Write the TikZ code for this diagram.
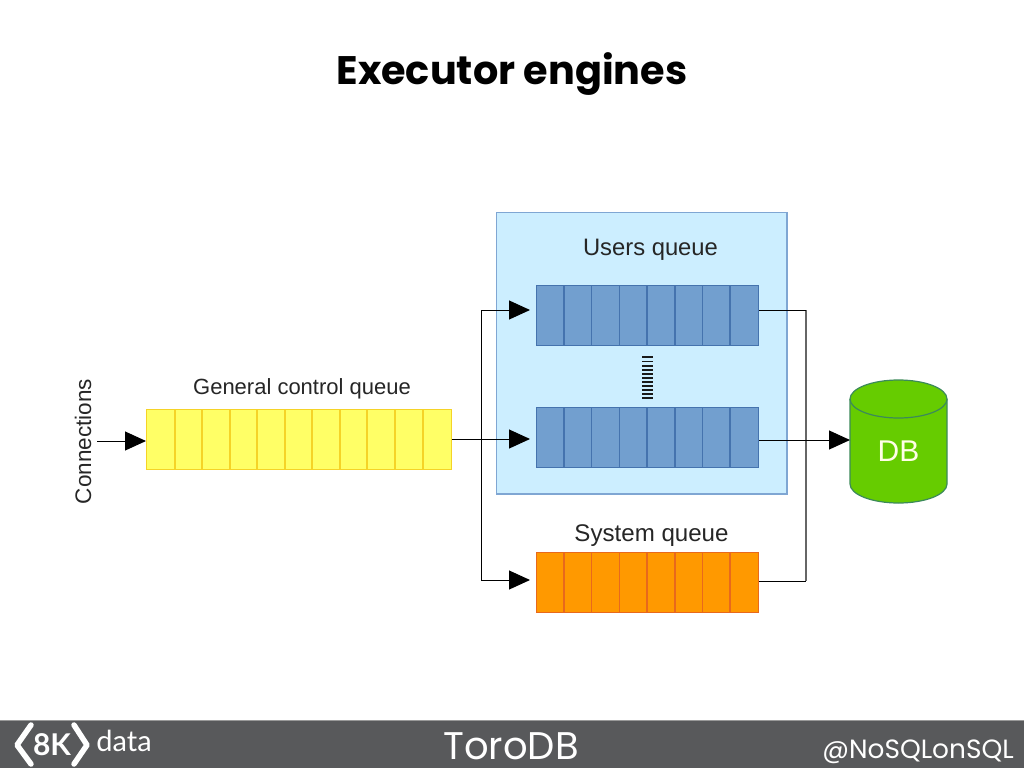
\documentclass[tikz,border=0pt]{standalone}
\usepackage{fontspec}
\setmainfont{Liberation Sans}
\newfontfamily\titlefont{Poppins}
\newfontfamily\logofont{Lato}
\usetikzlibrary{arrows.meta,calc}
\definecolor{footgray}{HTML}{58595B}
\definecolor{yelfill}{HTML}{FFFF66}
\definecolor{yelline}{HTML}{F5D327}
\definecolor{bluefill}{HTML}{729FCF}
\definecolor{blueline}{HTML}{4573AE}
\definecolor{orfill}{HTML}{FF9900}
\definecolor{orline}{HTML}{E8691C}
\definecolor{panelfill}{HTML}{CCEEFF}
\definecolor{panelline}{HTML}{7FA6D3}
\definecolor{dbfill}{HTML}{66CC00}
\definecolor{dbline}{HTML}{3C8A5A}
\definecolor{busgray}{HTML}{666666}
\tikzset{
  x=1pt,y=-1pt,
  queue/.style={draw=#1,line width=1.4pt,minimum height=59.5pt,inner sep=0pt,anchor=north west},
  conn/.style={draw=black,line width=1pt},
  head/.style={conn,-{Triangle[length=21pt,width=19pt]}},
  lbl/.style={text=black!85,inner sep=0pt},
  divider/.style={line width=1.4pt},
}
\begin{document}
\begin{tikzpicture}
\useasboundingbox (0,0) rectangle (1024,768);
\fill[white] (0,0) rectangle (1024,768);
% panel
\node[draw=panelline,fill=panelfill,line width=1.3pt,minimum width=290.5pt,minimum height=281.5pt,inner sep=0pt,anchor=north west] (panel) at (495.8,211.8) {};
% queues
\node[queue=yelline,fill=yelfill,minimum width=304.5pt] (general) at (146,409) {};
\foreach \x in {175,202,230,257,285,312,340,367,395,423}{\draw[divider,yelline] (\x,409) -- (\x,468.5);}
\node[queue=blueline,fill=bluefill,minimum width=221.8pt] (users1) at (536,285) {};
\node[queue=blueline,fill=bluefill,minimum width=221.8pt] (users2) at (536,407) {};
\node[queue=orline,fill=orfill,minimum width=221.8pt] (system) at (536,552) {};
\foreach \x in {564,591.7,619.6,647,675,702.6,730}{
  \draw[divider,blueline] (\x,285) -- (\x,344.5);
  \draw[divider,blueline] (\x,407) -- (\x,466.5);
  \draw[divider,orline] (\x,552) -- (\x,611.5);
}
% dotted stack
\foreach \y in {357,361.5,366,370,374,378,382,386,390,394,398}{\fill[black!90] (642,\y-1) rectangle (653,\y+0.6);}
% database
\path[fill=dbfill,draw=dbline,line width=1.2pt] (850,399) -- (850,484) arc[start angle=180,end angle=360,x radius=48.5pt,y radius=19pt] -- (947,399) arc[start angle=0,end angle=180,x radius=48.5pt,y radius=19pt] -- cycle;
\draw[dbline,line width=1.2pt] (850,399) arc[start angle=180,end angle=360,x radius=48.5pt,y radius=19pt];
\node[inner sep=0pt,text=white!90!yellow,font=\fontsize{30}{32}\selectfont] (dbtext) at (898.5,451.5) {DB};
\coordinate (db) at (850,440);
% labels
\node[lbl,font=\fontsize{23.8}{26}\selectfont] (lusers) at (650.5,250) {Users queue};
\node[lbl,font=\fontsize{22}{24}\selectfont] (lgeneral) at (302,388.5) {General control queue};
\node[lbl,font=\fontsize{24.1}{26}\selectfont] (lsystem) at (651.5,536) {System queue};
\node[lbl,rotate=90,font=\fontsize{22.5}{24}\selectfont] (lconn) at (83,441.5) {Connections};
% connectors
\coordinate (cstart) at (97,441);
\coordinate (branch) at (481,439);
\coordinate (inT) at (530,310);
\coordinate (inM) at (530,439);
\coordinate (inB) at (530,580);
\coordinate (busT) at (806,310);
\coordinate (busB) at (806,581);
\draw[head] (cstart) -- (general.west |- cstart);
\draw[head] (general.east |- inM) -- (inM);
\draw[head] (branch) |- (inT);
\draw[head] (branch) |- (inB);
\draw[conn,draw=busgray,line width=1.4pt] (busT) -- (busB);
\draw[conn] (users1.east |- busT) -- (busT);
\draw[conn] (system.east |- busB) -- (busB);
\draw[head] (users2.east |- db) -- (db);
% title
\node[inner sep=0pt,font=\titlefont\bfseries\fontsize{39.8}{44}\selectfont,text=black] (title) at (512,74) {Executor engines};
% footer
\fill[footgray] (0,720) rectangle (1024,768);
\draw[black!40,line width=0.8pt] (0,720.5) -- (1024,720.5);
\draw[white,line width=5.5pt,line cap=round,line join=round] (31,725) -- (17,745) -- (31,764);
\draw[white,line width=5.5pt,line cap=round,line join=round] (74,725) -- (87,745) -- (74,764);
\node[inner sep=0pt,text=white,font=\logofont\bfseries\fontsize{30}{32}\selectfont] (logo8k) at (52,744.5) {8K};
\node[inner sep=0pt,text=white,font=\logofont\fontsize{29}{32}\selectfont] (logodata) at (124,741) {data};
\node[inner sep=0pt,text=white,font=\titlefont\fontsize{38.5}{42}\selectfont] (toro) at (511,746) {ToroDB};
\node[inner sep=0pt,text=white,font=\titlefont\fontsize{26.4}{30}\selectfont] (handle) at (918,752) {@NoSQLonSQL};
\end{tikzpicture}
\end{document}
